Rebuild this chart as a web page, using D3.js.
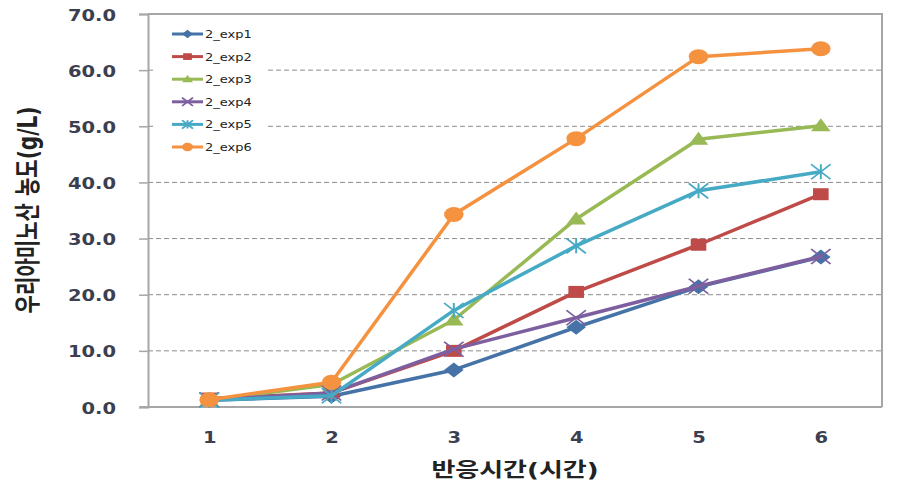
<!DOCTYPE html>
<html>
<head>
  <meta charset="utf-8">
  <title>우리아미노산 농도</title>
  <script src="https://d3js.org/d3.v7.min.js"></script>
  <style>
    body { margin: 0; background: #fff; }
    text { font-family: "DejaVu Sans", "Noto Sans CJK KR", sans-serif; }
  </style>
</head>
<body>
  <div id="chart"></div>

  <script>
    // Data
    const hours = ["1", "2", "3", "4", "5", "6"];
    const exp1 = [1.2, 1.9, 6.6, 14.2, 21.4, 26.7];
    const exp2 = [1.5, 2.5, 10.0, 20.5, 28.9, 37.9];
    const exp3 = [1.2, 4.0, 15.5, 33.5, 47.7, 50.1];
    const exp4 = [1.3, 2.5, 10.3, 15.9, 21.5, 26.8];
    const exp5 = [1.2, 2.0, 17.2, 28.7, 38.5, 41.9];
    const exp6 = [1.3, 4.4, 34.3, 47.8, 62.4, 63.8];
    const seriesNames = ["2_exp1", "2_exp2", "2_exp3", "2_exp4", "2_exp5", "2_exp6"];
    const yTicks = [0, 10, 20, 30, 40, 50, 60, 70];

    const series = [exp1, exp2, exp3, exp4, exp5, exp6];
    const colors = ["#4572A7", "#BE4B48", "#98B954", "#7D5FA0", "#46AAC5", "#F59240"];
    const shapes = ["diamond", "square", "triangle", "times", "star", "circle"];

    const W = 902, H = 491;
    const margin = { top: 14, right: 20, bottom: 84, left: 148 };
    const width = W - margin.left - margin.right,
          height = H - margin.top - margin.bottom;
    const sx = 1.3; // the picture is stretched sideways

    const svg = d3.select("#chart").append("svg")
        .attr("width", W).attr("height", H);
    const g = svg.append("g")
        .attr("transform", "translate(" + margin.left + "," + margin.top + ")");

    const x = d3.scalePoint().domain(hours).range([0, width]).padding(0.5);
    const y = d3.scaleLinear().domain([0, 70]).range([height, 0]);

    // gridlines
    g.selectAll(".grid")
      .data(yTicks.filter(d => d > 0 && d < 70))
      .enter().append("line")
      .attr("x1", 0).attr("x2", width)
      .attr("y1", d => y(d)).attr("y2", d => y(d))
      .attr("stroke", "#8c8c8c").attr("stroke-width", 1)
      .attr("stroke-dasharray", "5,3");

    // frame top/right
    g.append("path")
      .attr("d", "M0," + y(70) + "H" + width + "V" + height)
      .attr("fill", "none").attr("stroke", "#a6a6a6").attr("stroke-width", 2);

    // y axis
    const yAxis = g.append("g")
      .call(d3.axisLeft(y).tickValues(yTicks).tickSize(9).tickFormat(d3.format(".1f")).tickPadding(0));
    yAxis.select(".domain").attr("stroke", "#a6a6a6").attr("stroke-width", 2);
    yAxis.selectAll(".tick line").attr("stroke", "#a6a6a6").attr("stroke-width", 1.5);
    yAxis.selectAll(".tick text")
      .attr("x", null).attr("dy", null)
      .attr("transform", "translate(-32,6) scale(" + sx + ",1)")
      .attr("font-size", 15).attr("font-weight", "bold")
      .attr("fill", "#3b3f4f").attr("text-anchor", "end");

    // x axis
    const xAxis = g.append("g")
      .attr("transform", "translate(0," + height + ")")
      .call(d3.axisBottom(x).tickSize(0).tickPadding(0));
    xAxis.select(".domain").attr("stroke", "#a6a6a6").attr("stroke-width", 2)
      .attr("d", "M-8,0H" + width);
    xAxis.selectAll(".tick text")
      .attr("y", null).attr("dy", null)
      .attr("transform", "translate(0,36) scale(" + sx + ",1)")
      .attr("font-size", 15).attr("font-weight", "bold")
      .attr("fill", "#3b3f4f");

    // axis titles
    svg.append("text")
      .attr("transform", "translate(" + (margin.left + width / 2) + ",477) scale(" + sx + ",1)")
      .attr("text-anchor", "middle")
      .attr("font-size", 20).attr("font-weight", "bold").attr("fill", "#222")
      .attr("font-family", "'Noto Sans CJK KR', sans-serif")
      .text("반응시간(시간)");

    svg.append("text")
      .attr("transform", "translate(37,210) scale(" + sx + ",1) rotate(-90)")
      .attr("text-anchor", "middle")
      .attr("font-size", 20).attr("font-weight", "bold").attr("fill", "#222")
      .attr("font-family", "'Noto Sans CJK KR', sans-serif")
      .text("우리아미노산 농도(g/L)");

    // marker drawing
    function marker(sel, shape, color, s) {
      if (shape === "diamond") {
        sel.append("path").attr("d", "M0," + -s + "L" + s + ",0L0," + s + "L" + -s + ",0Z")
          .attr("fill", color);
      } else if (shape === "square") {
        sel.append("rect").attr("x", -s * 0.8).attr("y", -s * 0.8)
          .attr("width", s * 1.6).attr("height", s * 1.6).attr("fill", color);
      } else if (shape === "triangle") {
        sel.append("path").attr("d", "M0," + -s + "L" + s + "," + s * 0.75 + "L" + -s + "," + s * 0.75 + "Z")
          .attr("fill", color);
      } else if (shape === "times") {
        sel.append("path").attr("d", "M" + -s + "," + -s + "L" + s + "," + s + "M" + s + "," + -s + "L" + -s + "," + s)
          .attr("stroke", color).attr("stroke-width", 1.5);
      } else if (shape === "star") {
        sel.append("path").attr("d", "M" + -s + "," + -s + "L" + s + "," + s + "M" + s + "," + -s + "L" + -s + "," + s +
          "M0," + -s + "V" + s)
          .attr("stroke", color).attr("stroke-width", 1.5);
      } else {
        sel.append("circle").attr("r", s).attr("fill", color);
      }
    }

    const line = d3.line().x((d, i) => x(hours[i])).y(d => y(d));

    series.forEach((vals, k) => {
      g.append("path")
        .datum(vals)
        .attr("d", line)
        .attr("fill", "none")
        .attr("stroke", colors[k])
        .attr("stroke-width", 3.5)
        .attr("stroke-linejoin", "round");
      g.selectAll(".m" + k)
        .data(vals)
        .enter().append("g")
        .attr("class", "m" + k)
        .attr("transform", (d, i) => "translate(" + x(hours[i]) + "," + y(d) + ") scale(" + sx + ",1)")
        .each(function () { marker(d3.select(this), shapes[k], colors[k], 7.5); });
    });

    // legend
    const legend = svg.append("g").attr("transform", "translate(153,22)");
    legend.append("rect").attr("width", 112).attr("height", 136).attr("fill", "#fff");
    seriesNames.forEach((name, k) => {
      const row = legend.append("g").attr("transform", "translate(0," + (12 + k * 22.6) + ")");
      row.append("line").attr("x1", 19).attr("x2", 50)
        .attr("stroke", colors[k]).attr("stroke-width", 3);
      const m = row.append("g").attr("transform", "translate(34.5,0) scale(" + sx + ",1)");
      marker(m, shapes[k], colors[k], 4.2);
      row.append("text")
        .attr("transform", "translate(52,4) scale(" + sx + ",1)")
        .attr("font-size", 10).attr("fill", "#222")
        .text(name);
    });
  </script>
</body>
</html>
